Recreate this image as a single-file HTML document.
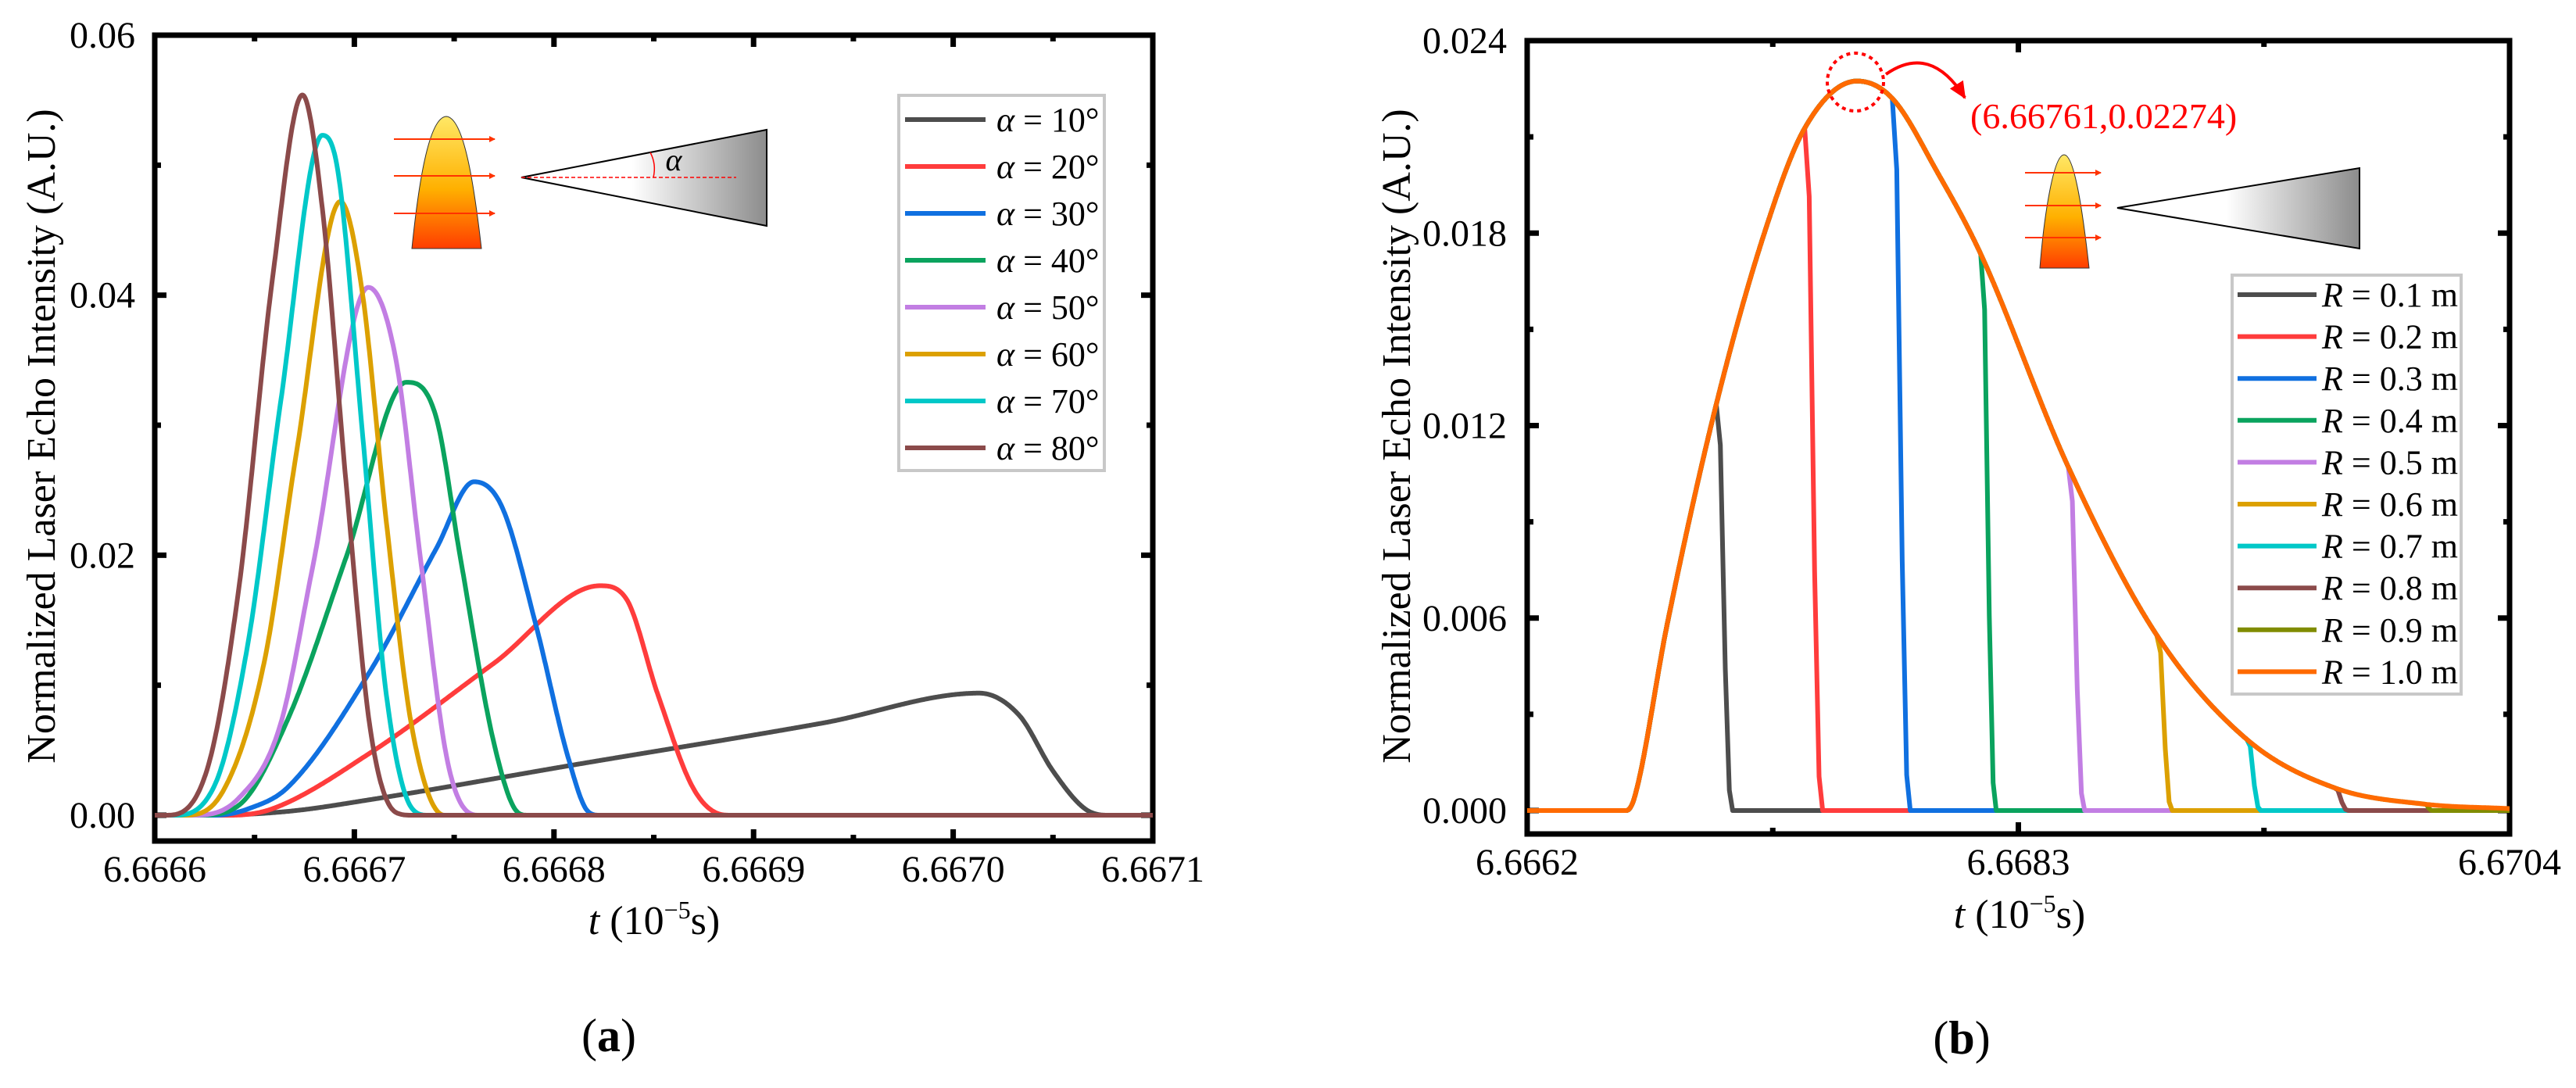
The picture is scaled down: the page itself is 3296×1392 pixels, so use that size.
<!DOCTYPE html>
<html><head><meta charset="utf-8"><style>
html,body{margin:0;padding:0;background:#fff;}
svg{display:block;}
svg text{font-family:"Liberation Serif","DejaVu Serif","Times New Roman",serif;}
</style></head><body>
<svg id="fig" width="3296" height="1392" viewBox="0 0 3296 1392" xmlns="http://www.w3.org/2000/svg" font-family="Liberation Serif, DejaVu Serif, serif">
<defs>
<linearGradient id="beam" x1="0" y1="0" x2="0" y2="1"><stop offset="0" stop-color="#ffe866"/><stop offset="0.55" stop-color="#ffb000"/><stop offset="1" stop-color="#ff3d00"/></linearGradient>
<linearGradient id="cone" x1="0" y1="0" x2="1" y2="0"><stop offset="0" stop-color="#ffffff"/><stop offset="0.45" stop-color="#ffffff"/><stop offset="1" stop-color="#8c8c8c"/></linearGradient>
<marker id="ah" markerWidth="8" markerHeight="8" refX="7" refY="4" orient="auto" markerUnits="userSpaceOnUse"><path d="M0,0 L8,4 L0,8 z" fill="#ff3300"/></marker>
<marker id="ah2" markerWidth="24" markerHeight="24" refX="20" refY="12" orient="auto" markerUnits="userSpaceOnUse"><path d="M0,2 L22,12 L0,22 z" fill="#ff0000"/></marker>
</defs>
<g id="chartA"></g>
<g id="chartB"></g>
</svg>
<script>
// ---------- Chart (a) data ----------
const aLabels = ["10°","20°","30°","40°","50°","60°","70°","80°"];
const aColors = ["#4d4d4d","#ff3c3c","#1070e0","#0aa35e","#c27ee3","#dca000","#00c8c8","#8b4a4a"];
const aT10 = [6.6666,6.666626,6.666667,6.666708,6.666811,6.666935,6.667013,6.667033,6.66705,6.667066,6.667077,6.6671];
const aV10 = [0,0,0.0003,0.0012,0.0039,0.0071,0.00939,0.0077,0.0034,0.0005,0,0];
const aT20 = [6.6666,6.666638,6.666659,6.666708,6.66677,6.666823,6.666836,6.666852,6.666869,6.666881,6.666889,6.6671];
const aV20 = [0,0,0.0005,0.0048,0.0117,0.01765,0.0167,0.0093,0.0023,0.0002,0,0];
const aT30 = [6.6666,6.66663,6.666647,6.666667,6.666708,6.666741,6.66676,6.666774,6.666791,6.666807,6.666817,6.666823,6.6671];
const aV30 = [0,0,0.0005,0.0022,0.0111,0.0205,0.02565,0.0237,0.0146,0.0045,0.0003,0,0];
const aT40 = [6.6666,6.666622,6.666642,6.666667,6.666696,6.666726,6.666741,6.666753,6.66677,6.666782,6.666787,6.6671];
const aV40 = [0,0,0.00075,0.0075,0.0199,0.0333,0.0306,0.0199,0.0055,0.0002,0,0];
const aT50 = [6.6666,6.666618,6.666642,6.666663,6.666679,6.666707,6.666721,6.666733,6.666747,6.666762,6.6671];
const aV50 = [0,0,0.0013,0.007,0.019,0.0406,0.0349,0.0199,0.0039,0,0];
const aT60 = [6.6666,6.666614,6.666634,6.666655,6.666671,6.666693,6.666704,6.666716,6.666729,6.666745,6.6671];
const aV60 = [0,0,0.0018,0.0119,0.0279,0.0472,0.0402,0.0226,0.0066,0,0];
const aT70 = [6.6666,6.666609,6.66663,6.666647,6.666663,6.666684,6.666692,6.666704,6.666716,6.666729,6.666737,6.6671];
const aV70 = [0,0,0.0023,0.0135,0.0317,0.0523,0.0493,0.0295,0.0093,0.0005,0,0];
const aT80 = [6.6666,6.666605,6.666626,6.666642,6.666659,6.666674,6.666684,6.666696,6.666708,6.666721,6.666729,6.6671];
const aV80 = [0,0,0.0034,0.0173,0.0413,0.0554,0.0466,0.0253,0.0066,0.0002,0,0];
const aXTicks = ["6.6666","6.6667","6.6668","6.6669","6.6670","6.6671"];
const aYTicks = ["0.00","0.02","0.04","0.06"];

// ---------- Chart (b) data ----------
const bLabels = ["0.1","0.2","0.3","0.4","0.5","0.6","0.7","0.8","0.9","1.0"];
const bColors = ["#4d4d4d","#ff3c3c","#1070e0","#0aa35e","#c27ee3","#dca000","#00c8c8","#8b4a4a","#808c00","#ff6a00"];
const envT = [6.6662,6.6666235,6.6666585,6.6667985,6.6670085,6.6672185,6.6673865,6.6676105,6.667761,6.6679535,6.668139,6.6685135,6.6688915,6.6692765,6.669651,6.670036,6.6704];
const envV = [0,0,0.0004,0.0058,0.01266,0.0181,0.02127,0.02274,0.0222,0.0199,0.01735,0.01071,0.00547,0.00222,0.00071,0.0002,0.00006];
const cutT = [6.6670085,6.6673865,6.667761,6.668139,6.6685135,6.6688915,6.6692765,6.669651,6.670036];
const dropT = [6.6670785,6.6674635,6.667838,6.6682055,6.6685835,6.668958,6.669336,6.6697105,6.670071];
const bXTicks = ["6.6662","6.6683","6.6704"];
const bYTicks = ["0.000","0.006","0.012","0.018","0.024"];

const NS="http://www.w3.org/2000/svg";
const FONT="Liberation Serif, DejaVu Serif, serif";
function mk(parent,tag,attrs){const e=document.createElementNS(NS,tag);for(const k in attrs)e.setAttribute(k,attrs[k]);if(tag==='text')e.setAttribute('font-family',FONT);parent.appendChild(e);return e;}
function mono(xs,ys){
  const n=xs.length,d=[],m=new Array(n);
  for(let i=0;i<n-1;i++)d.push((ys[i+1]-ys[i])/(xs[i+1]-xs[i]));
  m[0]=d[0];m[n-1]=d[n-2];
  for(let i=1;i<n-1;i++){m[i]=(d[i-1]*d[i]<=0)?0:(d[i-1]+d[i])/2;}
  for(let i=0;i<n-1;i++){if(d[i]===0){m[i]=0;m[i+1]=0;continue;}const a=m[i]/d[i],b=m[i+1]/d[i],s=a*a+b*b;if(s>9){const t=3/Math.sqrt(s);m[i]=t*a*d[i];m[i+1]=t*b*d[i];}}
  return function(x){let i=0;while(i<n-2&&x>xs[i+1])i++;const h=xs[i+1]-xs[i],t=(x-xs[i])/h,t2=t*t,t3=t2*t;
    return (2*t3-3*t2+1)*ys[i]+(t3-2*t2+t)*h*m[i]+(-2*t3+3*t2)*ys[i+1]+(t3-t2)*h*m[i+1];};
}
function axes(g,o){
  const r=mk(g,'rect',{x:o.L,y:o.T,width:o.R-o.L,height:o.B-o.T,fill:'none',stroke:'#000','stroke-width':7});
  
  
}
function tickLine(g,x1,y1,x2,y2,name){const l=mk(g,'line',{x1:x1,y1:y1,x2:x2,y2:y2,stroke:'#000','stroke-width':7});
  
  }
function txt(g,x,y,s,size,anchor,name){const t=mk(g,'text',{x:x,y:y,'font-size':size,'text-anchor':anchor||'middle',fill:'#000'});t.textContent=s;
  
  return t;}
function pathFrom(pts){return pts.map((p,i)=>(i?'L':'M')+p[0].toFixed(1)+','+p[1].toFixed(1)).join(' ');}

// ===== Chart A =====
(function(){
  const g=document.getElementById('chartA');
  const o={L:198,R:1475,T:45,B:1076};
  const t0=6.6666,t1=6.6671,y0=1043,y6=45;
  const X=t=>o.L+(t-t0)/(t1-t0)*(o.R-o.L);
  const Y=v=>y0-v/0.06*(y0-y6);
  axes(g,o);
  for(let i=0;i<aXTicks.length;i++){const x=X(parseFloat(aXTicks[i]));
    tickLine(g,x,o.B,x,o.B-15,'x-major-tick');tickLine(g,x,o.T,x,o.T+15,'x-major-tick-top');
    txt(g,x,1128,aXTicks[i],48,'middle','x-tick-label');
    if(i<aXTicks.length-1){const xm=x+(X(parseFloat(aXTicks[i+1]))-x)/2;tickLine(g,xm,o.B,xm,o.B-8,'x-minor-tick');tickLine(g,xm,o.T,xm,o.T+8,'x-minor-tick-top');}}
  for(let i=0;i<aYTicks.length;i++){const y=Y(parseFloat(aYTicks[i]));
    tickLine(g,o.L,y,o.L+15,y,'y-major-tick');tickLine(g,o.R,y,o.R-15,y,'y-major-tick-right');
    txt(g,173,y+16,aYTicks[i],48,'end','y-tick-label');
    if(i<aYTicks.length-1){const ym=(y+Y(parseFloat(aYTicks[i+1])))/2;tickLine(g,o.L,ym,o.L+8,ym,'y-minor-tick');tickLine(g,o.R,ym,o.R-8,ym,'y-minor-tick-right');}}
  const yt=txt(g,0,0,'Normalized Laser Echo Intensity (A.U.)',52,'middle','y-axis-title');yt.setAttribute('transform','translate(70,558) rotate(-90)');
  const xt=mk(g,'text',{x:837,y:1195,'font-size':52,'text-anchor':'middle'});
  
  
  xt.innerHTML='<tspan font-style="italic">t</tspan> (10<tspan dy="-20" font-size="32">−5</tspan><tspan dy="20">s)</tspan>';
  const cap=mk(g,'text',{x:779,y:1345,'font-size':60,'text-anchor':'middle'});
  
  
  cap.innerHTML='(<tspan font-weight="bold">a</tspan>)';
  const ins=mk(g,'g',{});
  
  
  mk(ins,'path',{d:'M527,318 C535,240 548,150 571,149 C594,150 607,240 616,318 Z',fill:'url(#beam)',stroke:'#333','stroke-width':1});
  [178,225,273].forEach(y=>mk(ins,'line',{x1:504,y1:y,x2:633,y2:y,stroke:'#ff3300','stroke-width':2,'marker-end':'url(#ah)'}));
  mk(ins,'polygon',{points:'667,227 981,166 981,289',fill:'url(#cone)',stroke:'#000','stroke-width':2});
  mk(ins,'line',{x1:667,y1:227,x2:942,y2:227,stroke:'#ff0000','stroke-width':1.5,'stroke-dasharray':'5,3'});
  mk(ins,'path',{d:'M832,195 Q840,210 836,227',fill:'none',stroke:'#ff0000','stroke-width':1.5});
  const al=mk(ins,'text',{x:862,y:218,'font-size':40,'font-style':'italic','text-anchor':'middle'});al.textContent='α';
  const Ts=[aT10,aT20,aT30,aT40,aT50,aT60,aT70,aT80],Vs=[aV10,aV20,aV30,aV40,aV50,aV60,aV70,aV80];
  for(let s=0;s<Ts.length;s++){const f=mono(Ts[s],Vs[s]);const pts=[];
    for(let k=0;k<=1400;k++){const t=t0+(t1-t0)*k/1400;pts.push([X(t),Y(f(t))]);}
    const p=mk(g,'path',{d:pathFrom(pts),fill:'none',stroke:aColors[s],'stroke-width':6,'stroke-linejoin':'round'});
    
    }
  const lg=mk(g,'g',{});
  
  
  mk(lg,'rect',{x:1150,y:122,width:263,height:480,fill:'#fff',stroke:'#c8c8c8','stroke-width':4});
  for(let i=0;i<aLabels.length;i++){const y=153+i*60;
    const l=mk(lg,'line',{x1:1158,y1:y,x2:1261,y2:y,stroke:aColors[i],'stroke-width':6});
    
    
    const t=mk(lg,'text',{x:1275,y:y+15,'font-size':44});
    
    
    t.innerHTML='<tspan font-style="italic">α</tspan> = '+aLabels[i];}
})();

// ===== Chart B =====
(function(){
  const g=document.getElementById('chartB');
  const o={L:1954,R:3211,T:52,B:1067};
  const t0=6.6662,t1=6.6704,y0=1037,yT=52;
  const X=t=>o.L+(t-t0)/(t1-t0)*(o.R-o.L);
  const Y=v=>y0-v/0.024*(y0-yT);
  axes(g,o);
  for(let i=0;i<bXTicks.length;i++){const x=X(parseFloat(bXTicks[i]));
    tickLine(g,x,o.B,x,o.B-15,'x-major-tick');tickLine(g,x,o.T,x,o.T+15,'x-major-tick-top');
    txt(g,x,1119,bXTicks[i],48,'middle','x-tick-label');
    if(i<bXTicks.length-1){const xm=(x+X(parseFloat(bXTicks[i+1])))/2;tickLine(g,xm,o.B,xm,o.B-8,'x-minor-tick');tickLine(g,xm,o.T,xm,o.T+8,'x-minor-tick-top');}}
  for(let i=0;i<bYTicks.length;i++){const y=Y(parseFloat(bYTicks[i]));
    tickLine(g,o.L,y,o.L+15,y,'y-major-tick');tickLine(g,o.R,y,o.R-15,y,'y-major-tick-right');
    txt(g,1928,y+16,bYTicks[i],48,'end','y-tick-label');
    if(i<bYTicks.length-1){const ym=(y+Y(parseFloat(bYTicks[i+1])))/2;tickLine(g,o.L,ym,o.L+8,ym,'y-minor-tick');tickLine(g,o.R,ym,o.R-8,ym,'y-minor-tick-right');}}
  const yt=txt(g,0,0,'Normalized Laser Echo Intensity (A.U.)',52,'middle','y-axis-title');yt.setAttribute('transform','translate(1804,558) rotate(-90)');
  const xt=mk(g,'text',{x:2584,y:1187,'font-size':52,'text-anchor':'middle'});
  
  
  xt.innerHTML='<tspan font-style="italic">t</tspan> (10<tspan dy="-20" font-size="32">−5</tspan><tspan dy="20">s)</tspan>';
  const cap=mk(g,'text',{x:2510,y:1348,'font-size':60,'text-anchor':'middle'});
  
  
  cap.innerHTML='(<tspan font-weight="bold">b</tspan>)';
  const ins=mk(g,'g',{});
  
  
  mk(ins,'path',{d:'M2610,343 C2615,280 2627,198 2641,198 C2655,198 2666,280 2673,343 Z',fill:'url(#beam)',stroke:'#333','stroke-width':1});
  [221,263,304].forEach(y=>mk(ins,'line',{x1:2591,y1:y,x2:2688,y2:y,stroke:'#ff3300','stroke-width':2,'marker-end':'url(#ah)'}));
  mk(ins,'polygon',{points:'2709,266 3019,215 3019,318',fill:'url(#cone)',stroke:'#000','stroke-width':2});
  const env=mono(envT,envV);
  const N=1500;
  for(let s=0;s<bLabels.length;s++){const pts=[];
    if(s<cutT.length){
      for(let k=0;k<=N;k++){const t=t0+(t1-t0)*k/N;if(t>=cutT[s])break;pts.push([X(t),Y(env(t))]);}
      const vc=env(cutT[s]);
      pts.push([X(cutT[s]),Y(vc)]);
      const dt=dropT[s]-cutT[s];
      pts.push([X(cutT[s]+dt*0.25),Y(vc*0.9)]);
      pts.push([X(cutT[s]+dt*0.55),Y(vc*0.35)]);
      pts.push([X(cutT[s]+dt*0.8),Y(vc*0.05)]);
      pts.push([X(dropT[s]),Y(0)]);
      pts.push([X(t1),Y(0)]);
    } else {
      for(let k=0;k<=N;k++){const t=t0+(t1-t0)*k/N;pts.push([X(t),Y(env(t))]);}
    }
    const p=mk(g,'path',{d:pathFrom(pts),fill:'none',stroke:bColors[s],'stroke-width':6,'stroke-linejoin':'round'});
    
    }
  const an=mk(g,'g',{});
  
  
  mk(an,'ellipse',{cx:2374,cy:105,rx:36,ry:37,fill:'none',stroke:'#ff0000','stroke-width':4,'stroke-dasharray':'5,5'});
  mk(an,'path',{d:'M2413,95 Q2470,55 2514,125',fill:'none',stroke:'#ff0000','stroke-width':4,'marker-end':'url(#ah2)'});
  const at=mk(an,'text',{x:2521,y:164,'font-size':46,fill:'#ff0000'});at.textContent='(6.66761,0.02274)';
  const lg=mk(g,'g',{});
  
  
  mk(lg,'rect',{x:2856,y:352,width:293,height:536,fill:'#fff',stroke:'#c8c8c8','stroke-width':4});
  for(let i=0;i<bLabels.length;i++){const y=377+i*53.6;
    const l=mk(lg,'line',{x1:2863,y1:y,x2:2964,y2:y,stroke:bColors[i],'stroke-width':6});
    
    
    const t=mk(lg,'text',{x:2971,y:y+15,'font-size':44});
    
    
    t.innerHTML='<tspan font-style="italic">R</tspan> = '+bLabels[i]+' m';}
})();
</script>
</body></html>
